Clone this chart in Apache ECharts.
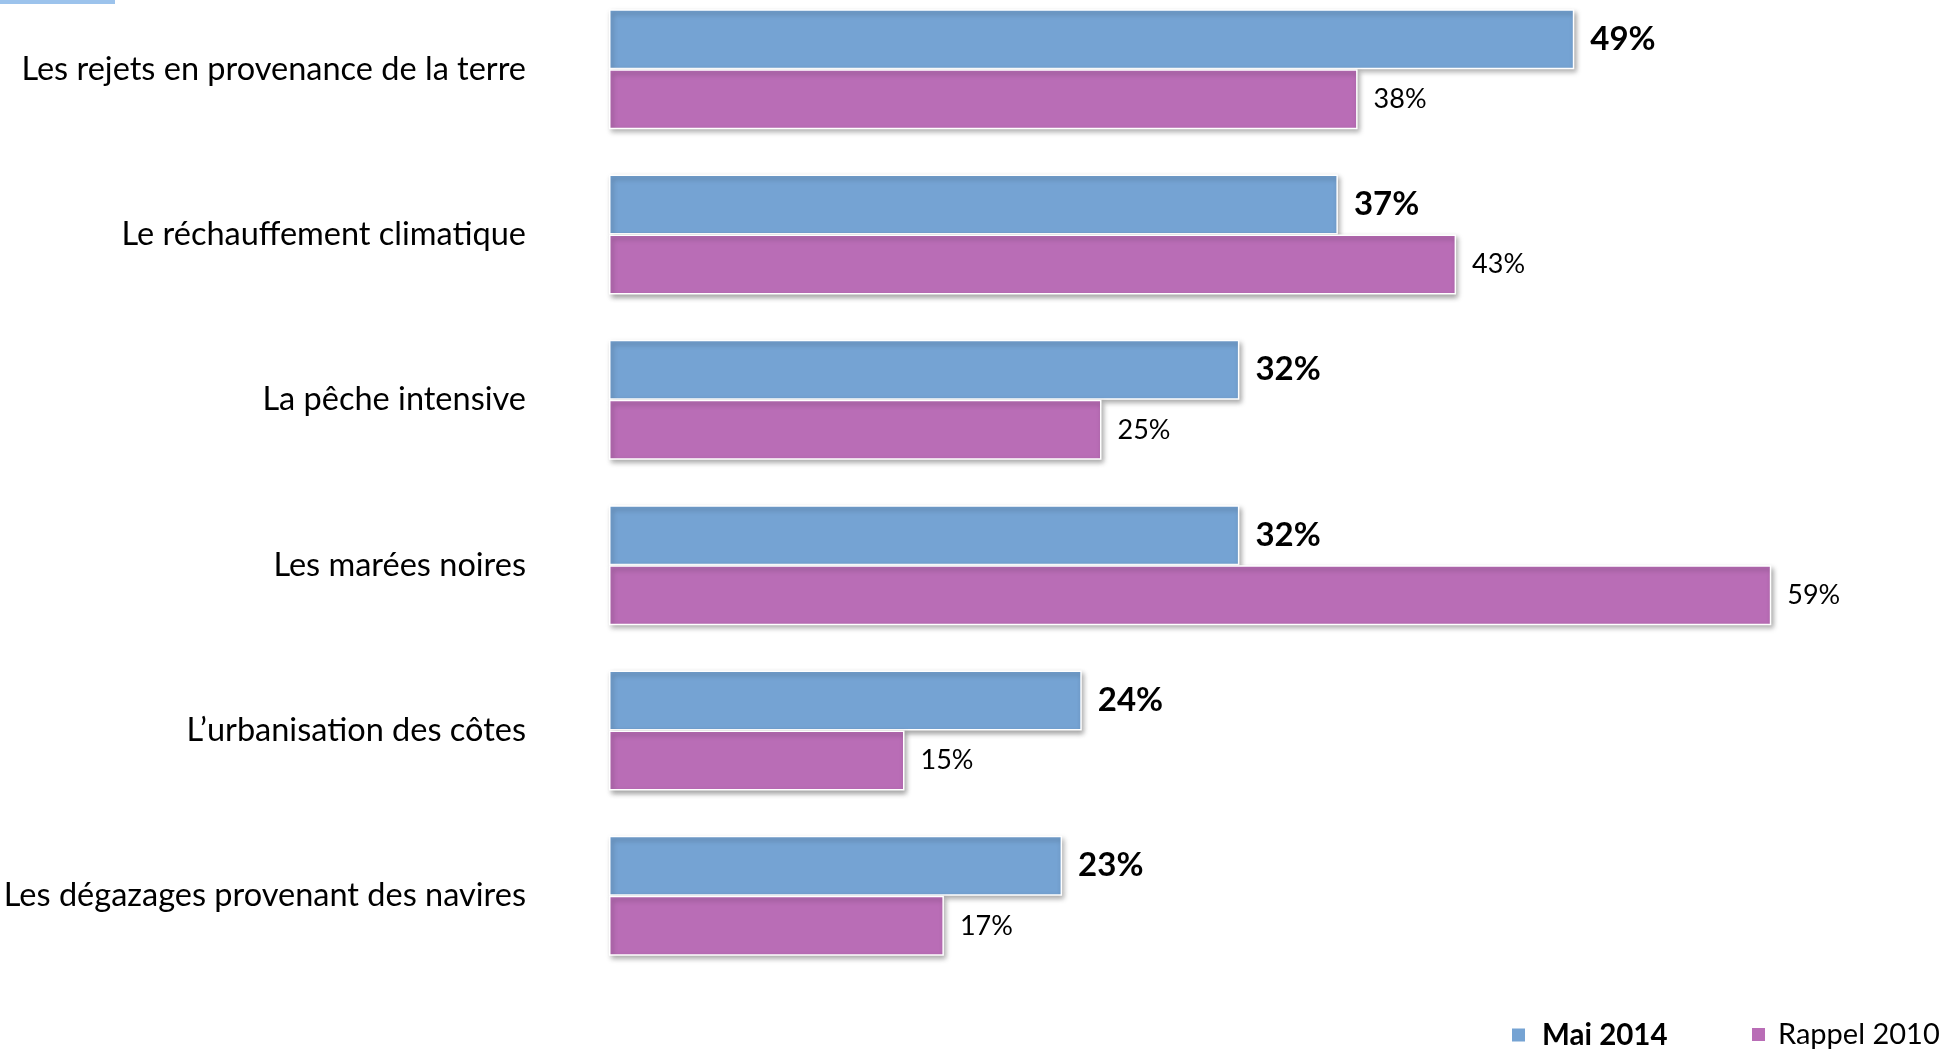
<!DOCTYPE html>
<html>
<head>
<meta charset="utf-8">
<script src="https://cdn.jsdelivr.net/npm/echarts@6/dist/echarts.min.js"></script>
<style>
html,body{margin:0;padding:0;background:#fff;overflow:hidden;}
#wrap{position:relative;width:1943px;height:1050px;overflow:hidden;}
#chart{position:absolute;left:0;top:-20px;width:1943px;height:1070px;}
</style>
</head>
<body>
<div id="wrap"><div id="chart"></div></div>
<script>
const categories = [
  "Les rejets en provenance de la terre",
  "Le réchauffement climatique",
  "La pêche intensive",
  "Les marées noires",
  "L’urbanisation des côtes",
  "Les dégazages provenant des navires"
];
const seriesNames = ["Mai 2014", "Rappel 2010"];
const mai2014 = [49, 37, 32, 32, 24, 23];
const rappel2010 = [38, 43, 25, 59, 15, 17];

const FONT = "Lato, 'Noto Sans', sans-serif";
const chart = echarts.init(document.getElementById('chart'));
const barStyle = (color) => ({
  color: color,
  borderColor: '#ffffff',
  borderWidth: 1.5,
  shadowBlur: 5,
  shadowOffsetX: 2,
  shadowOffsetY: 3,
  shadowColor: 'rgba(0,0,0,0.35)'
});
const legendBase = {
  top: 1035, itemWidth: 15, itemHeight: 15, icon: 'rect', width: 400
};
chart.setOption({
  animation: false,
  backgroundColor: '#ffffff',
  graphic: [{
    type: 'rect', left: 0, top: 20,
    shape: {width: 115, height: 4},
    style: {fill: '#9cc3ec'}
  }],
  grid: {left: 609, right: 152, top: 6.5, bottom: 71.5, containLabel: false},
  xAxis: {
    type: 'value', min: 0, max: 60, show: false
  },
  yAxis: {
    type: 'category', data: categories, inverse: true,
    axisLine: {show: false}, axisTick: {show: false},
    axisLabel: {fontFamily: FONT, fontSize: 32.5, color: '#000', margin: 83}
  },
  legend: [
    Object.assign({}, legendBase, {
      left: 1505, data: [seriesNames[0]],
      textStyle: {fontFamily: FONT, fontSize: 29.5, fontWeight: 'bold', color: '#000', padding: [0, 0, 0, 11]}
    }),
    Object.assign({}, legendBase, {
      left: 1745, data: [seriesNames[1]],
      textStyle: {fontFamily: FONT, fontSize: 29, color: '#000', padding: [0, 0, 0, 7]}
    })
  ],
  series: [
    {
      name: seriesNames[0], type: 'bar', data: mai2014,
      barWidth: 60, barGap: '0%',
      itemStyle: barStyle('#75a3d3'),
      label: {show: true, position: 'right', distance: 16, formatter: '{c}%',
        fontFamily: FONT, fontSize: 33, fontWeight: 'bold', color: '#000'}
    },
    {
      name: seriesNames[1], type: 'bar', data: rappel2010,
      barWidth: 60,
      itemStyle: barStyle('#b96db6'),
      label: {show: true, position: 'right', distance: 16, formatter: '{c}%',
        fontFamily: FONT, fontSize: 27, color: '#000'}
    }
  ]
});
</script>
</body>
</html>
